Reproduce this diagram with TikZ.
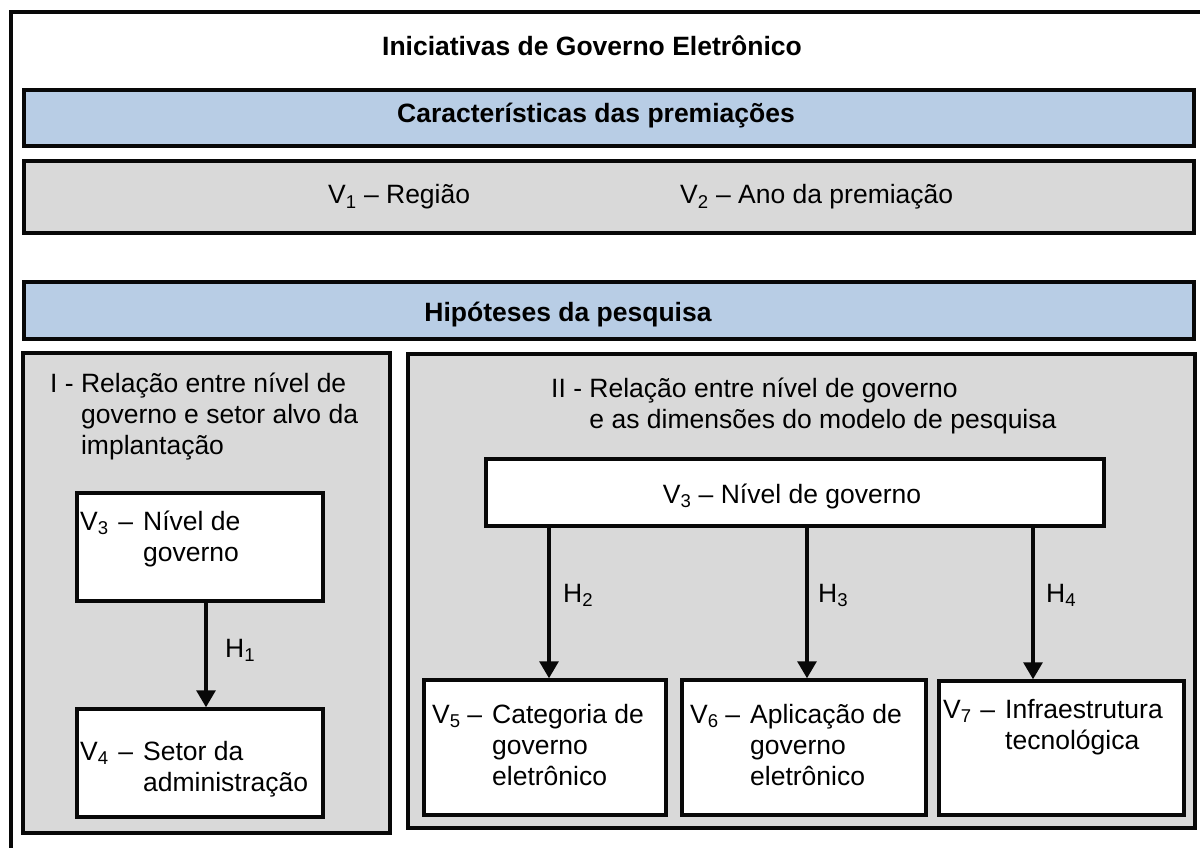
\documentclass[tikz,border=0pt]{standalone}
\usepackage{fontspec}
\setmainfont{Liberation Sans}
\usetikzlibrary{arrows.meta}

\newlength{\du}
\setlength{\du}{1pt}

\definecolor{barblue}{rgb}{0.722, 0.804, 0.898}
\definecolor{panelgrey}{rgb}{0.851, 0.851, 0.851}
\definecolor{edgecolor}{rgb}{0.030, 0.030, 0.030}

\newcommand{\Vn}[1]{V\textsubscript{#1}}
\newcommand{\Hn}[1]{H\textsubscript{#1}}
% variable label hanging in front of a text block
\newcommand{\Vlead}[2]{\makebox[#2][l]{\Vn{#1}\hfill–\hspace{10\du}}}

\tikzset{
  box/.style={draw=edgecolor, line width=3.5\du, rectangle, inner sep=0pt},
  bluebar/.style={box, fill=barblue},
  greybox/.style={box, fill=panelgrey},
  whitebox/.style={box, fill=white},
  txt/.style={inner sep=0pt, font=\fontsize{26.5}{31}\selectfont},
  boldtxt/.style={inner sep=0pt, font=\fontsize{26.5}{31}\selectfont\bfseries},
  hyparrow/.style={draw=edgecolor, line width=3.2\du, -{Triangle[length=17pt,width=19pt]}}
}

\begin{document}
\begin{tikzpicture}
\pgftransformxscale{1.000000}
\pgftransformyscale{-1.000000}
\useasboundingbox (0\du,0\du) rectangle (1200\du,848\du);
\clip (0\du,0\du) rectangle (1200\du,848\du);
% outer frame, runs off the page on the right and at the bottom
\draw[edgecolor, line width=3.5\du] (11\du,12\du) rectangle (1230\du,880\du);
\node[boldtxt, anchor=base] (title) at (592\du,56\du) {Iniciativas de Governo Eletrônico};
% awards
\node[bluebar, minimum width=1170\du, minimum height=56\du] (awardbar) at (609\du,118\du) {};
\node[boldtxt, anchor=base] (awardtitle) at (596\du,123\du) {Características das premiações};
\node[greybox, minimum width=1170\du, minimum height=72\du] (awardrow) at (609\du,197\du) {};
\node[txt, anchor=base west] (vI) at (328\du,204\du) {\Vn{1} – Região};
\node[txt, anchor=base west] (vII) at (680\du,204\du) {\Vn{2} – Ano da premiação};
% hypotheses
\node[bluebar, minimum width=1170\du, minimum height=57\du] (hypbar) at (609\du,310.5\du) {};
\node[boldtxt, anchor=base] (hyptitle) at (568\du,321\du) {Hipóteses da pesquisa};
\node[greybox, minimum width=367\du, minimum height=480\du] (panelI) at (206.5\du,593\du) {};
\node[greybox, minimum width=787\du, minimum height=474\du] (panelII) at (801.5\du,591\du) {};
\node[txt, anchor=base west] (panelItxt) at (50\du,392\du) {I - \parbox[t]{320\du}{Relação entre nível de\\governo e setor alvo da\\implantação}};
\node[txt, anchor=base west] (panelIItxt) at (551\du,397\du) {II - \parbox[t]{560\du}{Relação entre nível de governo\\e as dimensões do modelo de pesquisa}};
% panel I
\node[whitebox, minimum width=246\du, minimum height=108\du] (lvIII) at (200\du,547\du) {};
\node[txt, anchor=base west] (lvIIItxt) at (80\du,530\du) {\Vlead{3}{63\du}\parbox[t]{170\du}{Nível de\\governo}};
\node[whitebox, minimum width=246\du, minimum height=108\du] (lvIV) at (200\du,763\du) {};
\node[txt, anchor=base west] (lvIVtxt) at (80\du,760\du) {\Vlead{4}{63\du}\parbox[t]{170\du}{Setor da\\administração}};
\coordinate (hI) at (206\du,0\du);
\draw[hyparrow] (lvIII.south -| hI) -- (lvIV.north -| hI);
\node[txt, anchor=base west] (hItxt) at (225\du,657\du) {\Hn{1}};
% panel II
\node[whitebox, minimum width=618\du, minimum height=67\du] (rvIII) at (795\du,492.5\du) {};
\node[txt, anchor=base] (rvIIItxt) at (792\du,503\du) {\Vn{3} – Nível de governo};
\node[whitebox, minimum width=242\du, minimum height=135\du] (vV) at (545\du,747.5\du) {};
\node[whitebox, minimum width=244\du, minimum height=135\du] (vVI) at (804\du,747.5\du) {};
\node[whitebox, minimum width=245\du, minimum height=134\du] (vVII) at (1061.5\du,748\du) {};
\node[txt, anchor=base west] (vVtxt) at (432\du,723\du) {\Vlead{5}{60\du}\parbox[t]{170\du}{Categoria de\\governo\\eletrônico}};
\node[txt, anchor=base west] (vVItxt) at (690\du,723\du) {\Vlead{6}{60\du}\parbox[t]{170\du}{Aplicação de\\governo\\eletrônico}};
\node[txt, anchor=base west] (vVIItxt) at (943\du,718\du) {\Vlead{7}{62\du}\parbox[t]{175\du}{Infraestrutura\\tecnológica}};
\coordinate (hII) at (549\du,0\du);
\coordinate (hIII) at (807\du,0\du);
\coordinate (hIV) at (1033\du,0\du);
\draw[hyparrow] (rvIII.south -| hII) -- (vV.north -| hII);
\draw[hyparrow] (rvIII.south -| hIII) -- (vVI.north -| hIII);
\draw[hyparrow] (rvIII.south -| hIV) -- (vVII.north -| hIV);
\node[txt, anchor=base west] (hIItxt) at (563\du,602\du) {\Hn{2}};
\node[txt, anchor=base west] (hIIItxt) at (818\du,602\du) {\Hn{3}};
\node[txt, anchor=base west] (hIVtxt) at (1046\du,602\du) {\Hn{4}};
\end{tikzpicture}
\end{document}
